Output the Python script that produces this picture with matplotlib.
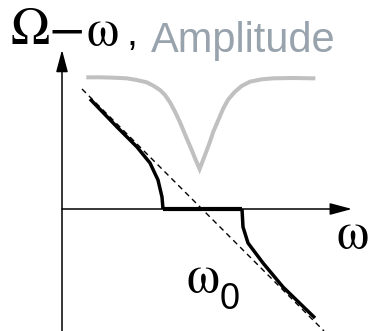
import matplotlib
matplotlib.use("Agg")
import matplotlib.pyplot as plt
from matplotlib.patches import FancyArrowPatch

# detuning curve, frequency in units of the locking half-width
left_w = [0.70, 1.375, 1.875, 2.2, 2.4, 2.5, 2.525]
left_d = [2.75, 2.05, 1.55, 1.15, 0.725, 0.3, 0.0]
lock_w = [2.525, 4.5]
lock_d = [0.0, 0.0]
right_w = [4.5, 4.525, 4.65, 5.025, 5.525, 6.325]
right_d = [0.0, -0.45, -0.85, -1.35, -1.95, -2.725]

# free-running line  Omega - omega = omega0 - omega
free_w = [0.5, 6.55]
free_d = [3.0, -3.05]

# response amplitude (arbitrary units, drawn above the axis)
amp_w = [0.658, 0.95, 1.283, 1.617, 1.867, 2.117, 2.283, 2.45, 2.575, 2.7,
         2.825, 2.95, 3.117, 3.242, 3.325, 3.44,
         3.575, 3.7, 3.783, 3.908, 4.033, 4.158, 4.325, 4.492, 4.7,
         4.992, 5.283, 5.783, 6.283]
amp_a = [3.292, 3.292, 3.283, 3.267, 3.225, 3.167, 3.083, 2.975, 2.85, 2.667,
         2.433, 2.167, 1.767, 1.475, 1.267, 1.0,
         1.35, 1.683, 1.933, 2.225, 2.517, 2.742, 2.933, 3.075, 3.183,
         3.242, 3.267, 3.275, 3.267]

W, H = 374, 331
fig = plt.figure(figsize=(W / 100, H / 100), dpi=100)
ax = fig.add_axes([0, 0, 1, 1])
ax.set_xlim(-62 / 40, (W - 62) / 40)
ax.set_ylim((209 - H) / 40, 209 / 40)
ax.axis("off")

# axes with arrow heads
for start, end in [((0, -3.2), (0, 3.98)), ((0, 0), (7.25, 0))]:
    ax.add_patch(FancyArrowPatch(start, end, arrowstyle="-|>,head_length=1.35,head_width=0.36",
                                 mutation_scale=10, lw=1.1, color="black",
                                 shrinkA=0, shrinkB=0))

ax.plot(amp_w, amp_a, color="#c0c0c0", lw=2.9, solid_joinstyle="miter")
ax.plot(free_w, free_d, color="black", lw=1.0, ls=(0, (4, 3)))
ax.plot(left_w, left_d, color="black", lw=2.5, solid_capstyle="butt")
ax.plot(lock_w, lock_d, color="black", lw=3.0, solid_capstyle="butt")
ax.plot(right_w, right_d, color="black", lw=2.5, solid_capstyle="butt")


def px(x, y):
    return x / W, 1 - y / H


greek = ["STIXGeneral", "DejaVu Serif"]
fig.text(*px(11, 45), "\u03a9\u2212", family=greek, fontsize=38, color="black")
fig.text(*px(86, 45), "\u03c9", family=greek, fontsize=37, color="black")
fig.text(*px(126, 45), ",", family="Liberation Sans", fontsize=28, color="black")
fig.text(*px(151, 52), "Amplitude", family="Liberation Sans", fontsize=30, color="#98a3ad")
fig.text(*px(337, 248), "\u03c9", family=greek, fontsize=37, color="black")
fig.text(*px(187, 292), "\u03c9", family=greek, fontsize=38, color="black")
fig.text(*px(220, 309), "0", family="Liberation Sans", fontsize=26, color="black")

fig.savefig("out.png", dpi=100)
